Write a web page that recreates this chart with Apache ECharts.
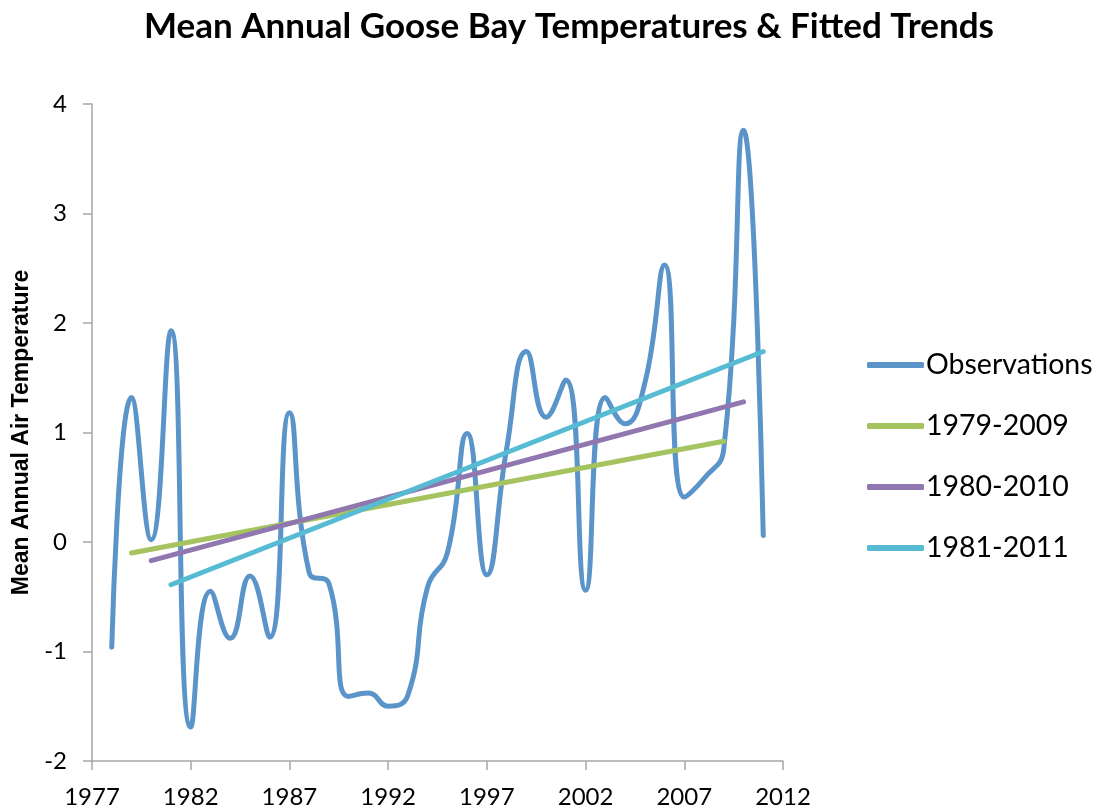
<!DOCTYPE html>
<html>
<head>
<meta charset="utf-8">
<script src="https://cdn.jsdelivr.net/npm/echarts@6/dist/echarts.min.js"></script>
<style>
  html, body { margin: 0; padding: 0; background: #fff; }
  #chart { width: 1100px; height: 810px; }
</style>
</head>
<body>
<div id="chart"></div>
<script>
var years = [1978, 1979, 1980, 1981, 1982, 1983, 1984, 1985, 1986, 1987,
  1988, 1989, 1990, 1991, 1992, 1993, 1994, 1995, 1996, 1997,
  1998, 1999, 2000, 2001, 2002, 2003, 2004, 2005, 2006, 2007,
  2008, 2009, 2010, 2011];
var obsValues = [-0.96, 1.32, 0.02, 1.93, -1.69, -0.45, -0.88, -0.31, -0.87, 1.18,
  -0.28, -0.38, -1.41, -1.38, -1.50, -1.40, -0.41, -0.10, 0.99, -0.30,
  0.85, 1.74, 1.14, 1.48, -0.44, 1.32, 1.08, 1.45, 2.53, 0.41,
  0.58, 0.85, 3.76, 0.06];

// fitted trends: start / end year and value
var trendNames = ['1979-2009', '1980-2010', '1981-2011'];
var trendYears = [[1979, 2009], [1980, 2010], [1981, 2011]];
var trendValues = [[-0.10, 0.92], [-0.17, 1.28], [-0.39, 1.74]];
var trendColors = ['#a5c35f', '#9077b0', '#56bbd3'];

var chart = echarts.init(document.getElementById('chart'));

var obsData = [];
for (var i = 0; i < years.length; i++) {
  obsData.push([years[i], obsValues[i]]);
}

var series = [{
  name: 'Observations',
  type: 'line',
  data: obsData,
  smooth: 0.5,
  symbol: 'none',
  lineStyle: { color: '#5b94c9', width: 5, cap: 'round' },
  itemStyle: { color: '#5b94c9' },
  z: 2
}];
for (var k = 0; k < trendNames.length; k++) {
  series.push({
    name: trendNames[k],
    type: 'line',
    data: [[trendYears[k][0], trendValues[k][0]], [trendYears[k][1], trendValues[k][1]]],
    symbol: 'none',
    lineStyle: { color: trendColors[k], width: 5, cap: 'round' },
    itemStyle: { color: trendColors[k] },
    z: 3 + k
  });
}

var option = {
  backgroundColor: '#fff',
  animation: false,
  title: {
    text: 'Mean Annual Goose Bay Temperatures & Fitted Trends',
    left: 139,
    top: 4,
    textStyle: { fontFamily: 'Lato', fontWeight: 'bold', fontSize: 35, color: '#000' }
  },
  legend: {
    orient: 'vertical',
    left: 862,
    top: 345,
    icon: 'roundRect',
    itemWidth: 57,
    itemHeight: 6,
    itemGap: 31,
    textStyle: { fontFamily: 'Lato', fontSize: 28.5, color: '#000', lineHeight: 30, padding: [0, 0, 0, -3] },
    data: ['Observations'].concat(trendNames)
  },
  grid: { left: 92, right: 317, top: 104, bottom: 49 },
  xAxis: {
    type: 'value',
    min: 1977,
    max: 2012,
    interval: 5,
    axisLine: { onZero: false, lineStyle: { color: '#a6a6a6', width: 1.5 } },
    axisTick: { show: true, length: 9, lineStyle: { color: '#a6a6a6', width: 1.5 } },
    axisLabel: {
      margin: 24, fontFamily: 'Lato', fontSize: 24, color: '#000',
      showMinLabel: true, showMaxLabel: true,
      formatter: function (v) { return String(v); }
    },
    splitLine: { show: false }
  },
  yAxis: {
    type: 'value',
    min: -2,
    max: 4,
    interval: 1,
    name: 'Mean Annual Air Temperature',
    nameLocation: 'middle',
    nameGap: 52,
    nameTextStyle: { fontFamily: 'Liberation Sans', fontWeight: 'bold', fontSize: 23, color: '#000' },
    axisLine: { show: true, lineStyle: { color: '#a6a6a6', width: 1.5 } },
    axisTick: { show: true, length: 9, lineStyle: { color: '#a6a6a6', width: 1.5 } },
    axisLabel: { margin: 25, fontFamily: 'Lato', fontSize: 24, color: '#000' },
    splitLine: { show: false }
  },
  series: series
};

chart.setOption(option);
</script>
</body>
</html>
